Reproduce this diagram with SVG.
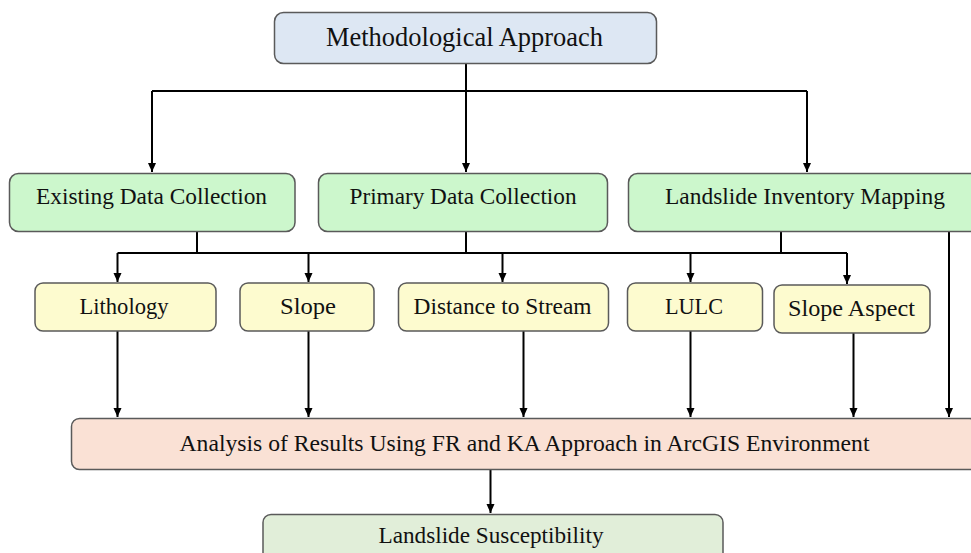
<svg xmlns="http://www.w3.org/2000/svg" width="971" height="553" viewBox="0 0 971 553">
<style>
.box{stroke:#5a5a5a;stroke-width:1.5}
.blue{fill:#dde7f3}
.green{fill:#ccf7cc}
.yellow{fill:#fdfbcf}
.pink{fill:#fae1d5}
.lgreen{fill:#e1eed9}
text{font-family:"Liberation Serif","Times New Roman",serif;fill:#111;text-anchor:middle}
.t{font-size:24px}
.title{font-size:27px}
.conn line,.conn path{stroke:#000;stroke-width:2;fill:none}
</style>
<defs>
<marker id="arr" markerUnits="userSpaceOnUse" markerWidth="10" markerHeight="9" refX="9" refY="4" orient="auto">
<path d="M0,0 L9,4 L0,8 Z" fill="#000"/>
</marker>
</defs>
<rect width="971" height="553" fill="#fff"/>
<g class="conn">
<line x1="466" y1="63" x2="466" y2="172" marker-end="url(#arr)"/>
<line x1="152" y1="91" x2="807" y2="91"/>
<line x1="152" y1="91" x2="152" y2="172" marker-end="url(#arr)"/>
<line x1="807" y1="91" x2="807" y2="172" marker-end="url(#arr)"/>
<line x1="197" y1="232" x2="197" y2="253"/>
<line x1="466" y1="232" x2="466" y2="253"/>
<line x1="781" y1="232" x2="781" y2="253"/>
<line x1="117.5" y1="253" x2="847" y2="253"/>
<line x1="117.5" y1="253" x2="117.5" y2="282" marker-end="url(#arr)"/>
<line x1="308.5" y1="253" x2="308.5" y2="282" marker-end="url(#arr)"/>
<line x1="502.5" y1="253" x2="502.5" y2="282" marker-end="url(#arr)"/>
<line x1="690.5" y1="253" x2="690.5" y2="282" marker-end="url(#arr)"/>
<line x1="847" y1="253" x2="847" y2="284" marker-end="url(#arr)"/>
<line x1="949" y1="232" x2="949" y2="417" marker-end="url(#arr)"/>
<line x1="117.5" y1="331" x2="117.5" y2="417" marker-end="url(#arr)"/>
<line x1="308.5" y1="331" x2="308.5" y2="417" marker-end="url(#arr)"/>
<line x1="523.5" y1="331" x2="523.5" y2="417" marker-end="url(#arr)"/>
<line x1="690.5" y1="331" x2="690.5" y2="417" marker-end="url(#arr)"/>
<line x1="853.5" y1="333" x2="853.5" y2="417" marker-end="url(#arr)"/>
<line x1="490.5" y1="469" x2="490.5" y2="513" marker-end="url(#arr)"/>
</g>
<g id="methodological">
<rect class="box blue" x="274.5" y="12.5" width="382" height="51" rx="9"/>
<text class="title" x="464.5" y="46" textLength="277" lengthAdjust="spacingAndGlyphs">Methodological Approach</text>
</g>
<g id="existing">
<rect class="box green" x="9.5" y="173.5" width="285.5" height="58" rx="9"/>
<text class="t" x="151.5" y="203.5" textLength="231" lengthAdjust="spacingAndGlyphs">Existing Data Collection</text>
</g>
<g id="primary">
<rect class="box green" x="318.5" y="173.5" width="289" height="58" rx="9"/>
<text class="t" x="463" y="203.5" textLength="227" lengthAdjust="spacingAndGlyphs">Primary Data Collection</text>
</g>
<g id="inventory">
<rect class="box green" x="628.5" y="173.5" width="353" height="58" rx="9"/>
<text class="t" x="805" y="203.5" textLength="280" lengthAdjust="spacingAndGlyphs">Landslide Inventory Mapping</text>
</g>
<g id="lithology">
<rect class="box yellow" x="35" y="283" width="181" height="48" rx="8"/>
<text class="t" x="124" y="313.5" textLength="89" lengthAdjust="spacingAndGlyphs">Lithology</text>
</g>
<g id="slope">
<rect class="box yellow" x="240" y="283" width="134" height="48" rx="8"/>
<text class="t" x="308" y="313.5" textLength="56" lengthAdjust="spacingAndGlyphs">Slope</text>
</g>
<g id="distance">
<rect class="box yellow" x="398.5" y="283" width="210" height="48" rx="8"/>
<text class="t" x="502.5" y="313.5" textLength="178" lengthAdjust="spacingAndGlyphs">Distance to Stream</text>
</g>
<g id="lulc">
<rect class="box yellow" x="627.5" y="283" width="135" height="48" rx="8"/>
<text class="t" x="694" y="313.5" textLength="58" lengthAdjust="spacingAndGlyphs">LULC</text>
</g>
<g id="aspect">
<rect class="box yellow" x="774" y="285" width="156" height="48" rx="8"/>
<text class="t" x="851.5" y="315.5" textLength="127" lengthAdjust="spacingAndGlyphs">Slope Aspect</text>
</g>
<g id="analysis">
<rect class="box pink" x="71.5" y="418.5" width="906" height="51" rx="8"/>
<text class="t" x="524.5" y="450.5" textLength="690" lengthAdjust="spacingAndGlyphs">Analysis of Results Using FR and KA Approach in ArcGIS Environment</text>
</g>
<g id="susceptibility">
<rect class="box lgreen" x="263" y="514.5" width="460" height="50" rx="8"/>
<text class="t" x="491" y="542.5" textLength="225" lengthAdjust="spacingAndGlyphs">Landslide Susceptibility</text>
</g>
</svg>
